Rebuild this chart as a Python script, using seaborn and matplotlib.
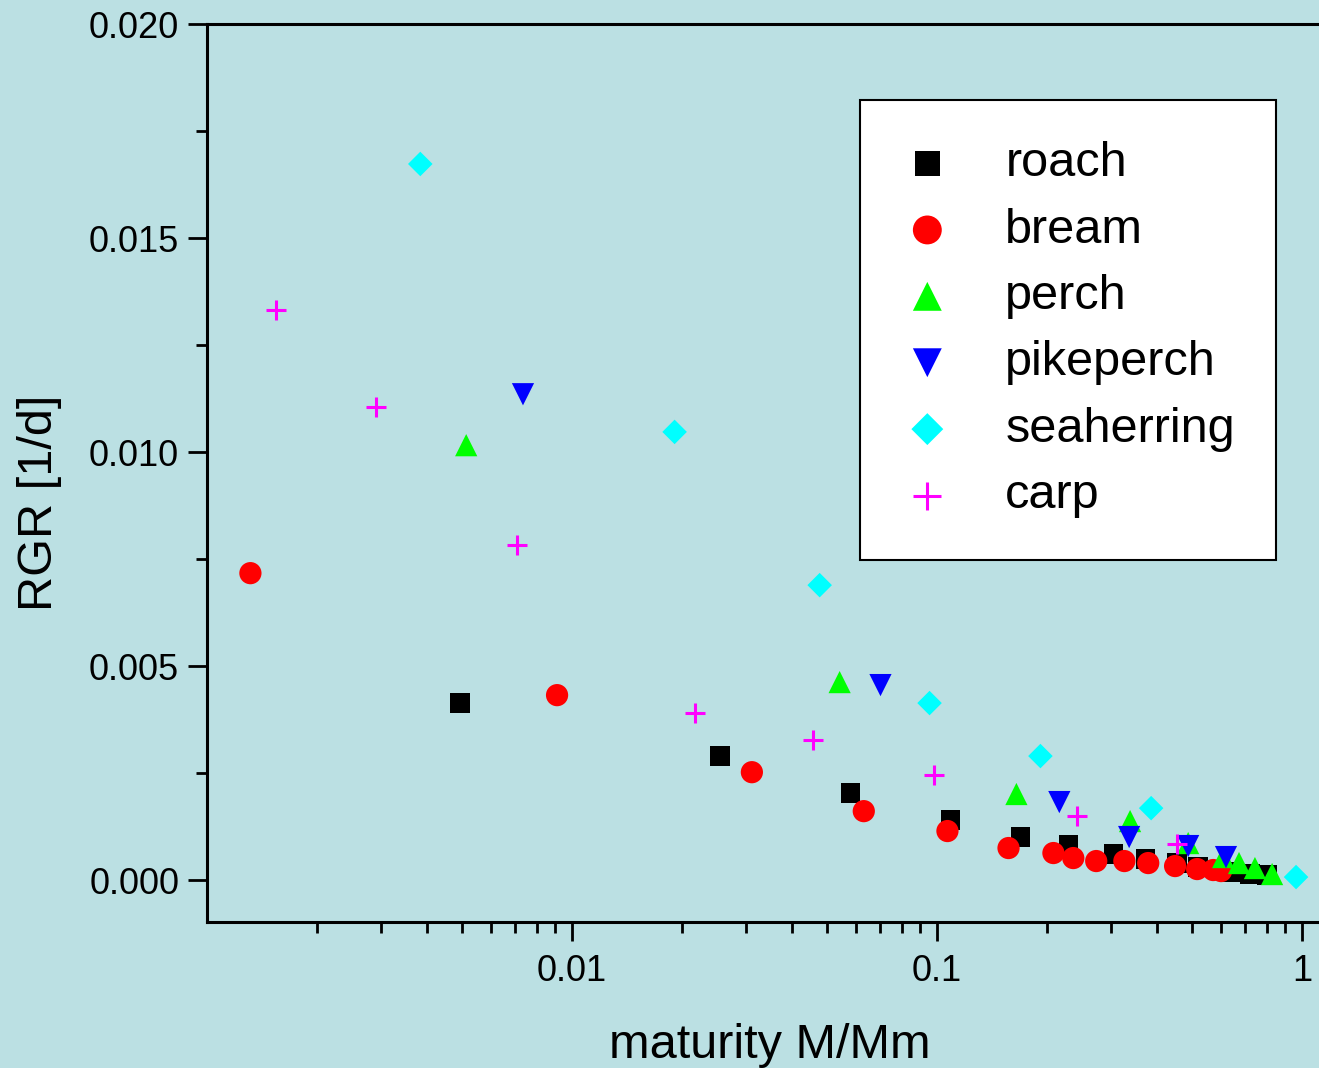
import numpy as np
import pandas as pd
import matplotlib
matplotlib.use("Agg")
import matplotlib.pyplot as plt
import seaborn as sns
from matplotlib.ticker import FixedLocator, NullFormatter, FuncFormatter, MultipleLocator

# ---- data ----
roach_x = [0.00494, 0.0254, 0.0580, 0.1089, 0.1693, 0.229, 0.304, 0.372, 0.455, 0.519, 0.647, 0.721, 0.802]
roach_y = [0.004135, 0.002897, 0.002033, 0.001402, 0.001005, 0.000818, 0.000607, 0.000491, 0.000397, 0.000304, 0.000187, 0.00014, 0.000117]

bream_x = [0.001315, 0.0091, 0.0311, 0.0630, 0.1068, 0.157, 0.2084, 0.2362, 0.273, 0.326, 0.379, 0.449, 0.516, 0.571, 0.600]
bream_y = [0.00717, 0.00432, 0.00252, 0.00161, 0.001145, 0.000748, 0.000631, 0.000514, 0.000444, 0.000444, 0.000397, 0.000327, 0.000257, 0.000234, 0.00021]

perch_x = [0.00513, 0.0541, 0.165, 0.338, 0.4876, 0.608, 0.672, 0.743, 0.828]
perch_y = [0.01016, 0.004625, 0.00201, 0.001378, 0.000864, 0.000537, 0.000397, 0.00028, 0.00014]

pikeperch_x = [0.00734, 0.070, 0.2163, 0.336, 0.4876, 0.619]
pikeperch_y = [0.01135, 0.004555, 0.001822, 0.001005, 0.000794, 0.000537]

seaherring_x = [0.00384, 0.0191, 0.0477, 0.0954, 0.192, 0.386, 0.963]
seaherring_y = [0.01673, 0.01047, 0.00689, 0.004135, 0.002897, 0.00168, 0.00007]

carp_x = [0.00155, 0.00291, 0.00707, 0.0217, 0.0456, 0.0984, 0.242, 0.455]
carp_y = [0.01332, 0.01105, 0.00783, 0.0039, 0.00327, 0.002453, 0.001495, 0.000841]

species = ["roach", "bream", "perch", "pikeperch", "seaherring", "carp"]
xs = [roach_x, bream_x, perch_x, pikeperch_x, seaherring_x, carp_x]
ys = [roach_y, bream_y, perch_y, pikeperch_y, seaherring_y, carp_y]

x_ticks = [0.01, 0.1, 1]
x_tick_labels = ["0.01", "0.1", "1"]
y_ticks = [0.0, 0.005, 0.010, 0.015, 0.020]

# ---- styles ----
colors = {"roach": "#000000", "bream": "#FF0000", "perch": "#00FF00",
          "pikeperch": "#0000FF", "seaherring": "#00FFFF", "carp": "#FF00FF"}
markers = {"roach": "s", "bream": "o", "perch": "^", "pikeperch": "v",
           "seaherring": "D", "carp": "+"}
sizes = {"roach": 14.0, "bream": 16.0, "perch": 16.0, "pikeperch": 16.0,
         "seaherring": 12.5, "carp": 15.0}

bg = "#BBE0E3"
sns.set_theme(style="ticks")
plt.rcParams["font.family"] = ["Liberation Sans", "DejaVu Sans"]
plt.rcParams["text.color"] = "black"

fig = plt.figure(figsize=(13.19, 10.68), dpi=100, facecolor=bg)
ax = fig.add_axes([207 / 1319, 146 / 1068, 1 - 207 / 1319, (922 - 24) / 1068])
ax.set_facecolor(bg)

frames = []
for name, x, y in zip(species, xs, ys):
    frames.append(pd.DataFrame({"x": x, "y": y, "species": name}))
df = pd.concat(frames, ignore_index=True)

for name in species:
    sub = df[df["species"] == name]
    m = markers[name]
    if m == "+":
        sns.scatterplot(data=sub, x="x", y="y", ax=ax, marker=m, color=colors[name],
                        s=sizes[name] ** 2, linewidth=2.2, label=name, zorder=3)
    else:
        sns.scatterplot(data=sub, x="x", y="y", ax=ax, marker=m, color=colors[name],
                        s=sizes[name] ** 2, linewidth=0, edgecolor="none", label=name, zorder=3)

ax.set_xscale("log")
ax.set_xlim(0.001, 1.113)
ax.set_ylim(-0.00098, 0.020)

ax.xaxis.set_major_locator(FixedLocator(x_ticks))
ax.set_xticklabels(x_tick_labels)
minor = [k * 10.0 ** e for e in (-3, -2, -1, 0) for k in range(2, 10)]
minor = [v for v in minor if v < 1.113]
ax.xaxis.set_minor_locator(FixedLocator(minor))
ax.xaxis.set_minor_formatter(NullFormatter())

ax.yaxis.set_major_locator(FixedLocator(y_ticks))
ax.yaxis.set_minor_locator(MultipleLocator(0.0025))
ax.yaxis.set_major_formatter(FuncFormatter(lambda v, p: f"{v:.3f}"))

for s in ["left", "bottom", "top"]:
    ax.spines[s].set_visible(True)
    ax.spines[s].set_linewidth(2.2)
    ax.spines[s].set_color("black")
ax.spines["right"].set_visible(False)

ax.tick_params(axis="both", which="major", direction="out", length=14, width=2.0,
               color="black", labelsize=26, labelcolor="black", pad=6)
ax.tick_params(axis="x", which="major", pad=9)
ax.tick_params(axis="both", which="minor", direction="out", length=8, width=2.0, color="black")
ax.tick_params(axis="x", which="both", top=False)

ax.set_xlabel("maturity M/Mm", fontsize=35, color="black")
ax.xaxis.set_label_coords(0.506, -0.112)
ax.set_ylabel("RGR [1/d]", fontsize=35, color="black")
ax.yaxis.set_label_coords(-0.130, 0.4666)
ax.grid(False)

leg = ax.legend(loc="upper left", bbox_to_anchor=((860 - 207) / 1112, 1 - (100 - 24) / 898),
                fontsize=35, frameon=True, fancybox=False, framealpha=1,
                edgecolor="black", facecolor="white", borderpad=0.85,
                labelspacing=0.44, handletextpad=1.07, handlelength=1.07, borderaxespad=0,
                markerscale=1.3)
leg.get_frame().set_linewidth(1.5)
for t in leg.get_texts():
    t.set_color("black")

fig.savefig("out.png", dpi=100, facecolor=bg)
